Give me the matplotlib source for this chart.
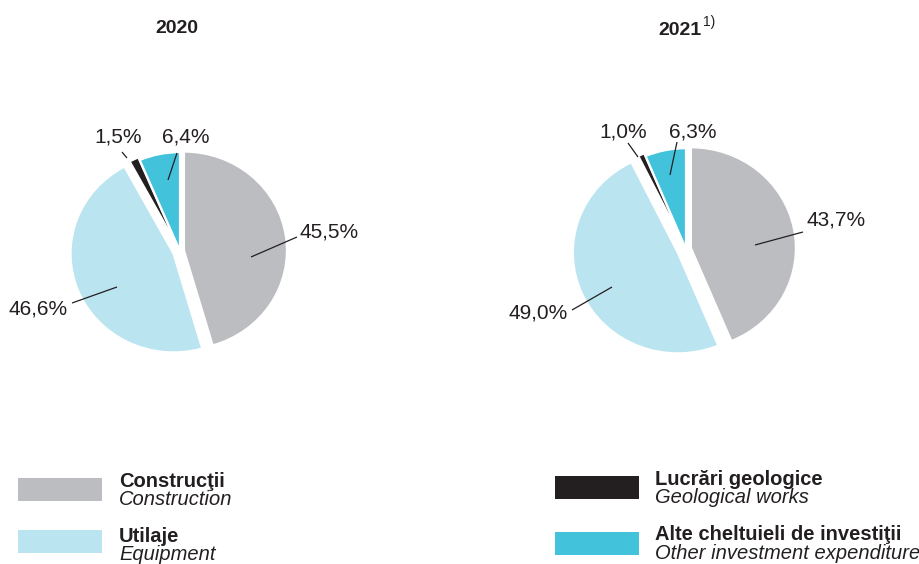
import matplotlib
matplotlib.use("Agg")
import matplotlib.pyplot as plt
from matplotlib.patches import Rectangle

# ---------------- data ----------------
years = ["2020", "2021"]
footnote_2021 = "1)"
categories_ro = ["Construcţii", "Utilaje", "Lucrări geologice", "Alte cheltuieli de investiţii"]
categories_en = ["Construction", "Equipment", "Geological works", "Other investment expenditure"]
share_2020 = [45.5, 46.6, 1.5, 6.4]
share_2021 = [43.7, 49.0, 1.0, 6.3]

# ---------------- style ----------------
colors = ["#BCBDC1", "#BAE4F0", "#231F20", "#42C3DB"]
TXT = "#231F20"
plt.rcParams['font.family'] = ['Liberation Sans', 'DejaVu Sans']

W, H = 920, 564
S = 0.96  # vertical squash of the pies


def P(x, y):
    """pixel (y down) -> data coords"""
    return (x, (H - y) / S)


fig = plt.figure(figsize=(W / 100, H / 100), dpi=100)
ax = fig.add_axes([0, 0, 1, 1])


def fmt(v):
    return f"{v:.1f}".replace(".", ",") + "%"


pies = [
    dict(vals=share_2020, c=(180, 251), r=103, explode=[4, 7, 3, 0],
         # leader start, leader end, text pos, ha  (pixel offsets from centre)
         labels=[((71, 6), (117, -14), (120, -19), "left"),
                 ((-63, 36), (-108, 52), (-112, 58), "right"),
                 ((-53, -93), (-58, -99), (-62, -114), "center"),
                 ((-12, -71), (-3, -98), (6, -114), "center")],
         title_pos=(177, 33)),
    dict(vals=share_2021, c=(686, 249), r=105, explode=[5, 9, 3, 0],
         labels=[((69, -4), (117, -17), (121, -29), "left"),
                 ((-74, 38), (-114, 61), (-118, 64), "right"),
                 ((-48, -92), (-58, -106), (-63, -117), "center"),
                 ((-16, -74), (-9, -107), (7, -117), "center")],
         title_pos=(680, 35)),
]

for p, year in zip(pies, years):
    cx, cy = p["c"]
    ax.pie(p["vals"], colors=colors, startangle=90, counterclock=False,
           center=P(cx, cy), radius=p["r"], explode=p["explode"],
           wedgeprops=dict(edgecolor="white", linewidth=1.6))
    for v, (s, e, t, ha) in zip(p["vals"], p["labels"]):
        x1, y1 = P(cx + s[0], cy + s[1])
        x2, y2 = P(cx + e[0], cy + e[1])
        ax.plot([x1, x2], [y1, y2], color=TXT, lw=0.9, solid_capstyle="butt")
        ax.text(*P(cx + t[0], cy + t[1]), fmt(v), ha=ha, va="center",
                fontsize=15, color=TXT)
    ax.text(*P(*p["title_pos"]), year, ha="center", va="baseline",
            fontsize=14, fontweight="bold", color=TXT)

# footnote marker on 2021
ax.text(*P(703, 26), footnote_2021, ha="left", va="baseline", fontsize=10, color=TXT)

# ---------------- legend ----------------
legend_boxes = [(18, 478), (18, 530), (555, 476), (555, 532)]
legend_text = [(119, 487, 505), (119, 542, 560), (655, 485, 503), (655, 540, 559)]
for col, (bx, by), (tx, ty1, ty2), ro, en in zip(colors, legend_boxes, legend_text,
                                                   categories_ro, categories_en):
    x0, y0 = P(bx, by + 23)
    ax.add_patch(Rectangle((x0, y0), 84, 23 / S, facecolor=col, edgecolor="none"))
    ax.text(*P(tx, ty1), ro, ha="left", va="baseline", fontsize=14.5,
            fontweight="bold", color=TXT)
    ax.text(*P(tx, ty2), en, ha="left", va="baseline", fontsize=14.5,
            style="italic", color=TXT)

ax.set_aspect("auto")
ax.set_xlim(0, W)
ax.set_ylim(0, H / S)
ax.axis("off")

fig.savefig("out.png", dpi=100)
